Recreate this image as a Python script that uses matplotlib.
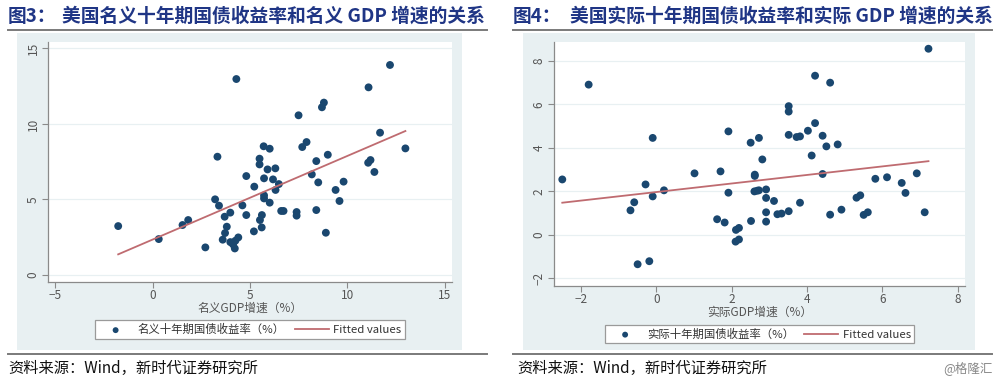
import numpy as np
import matplotlib
matplotlib.use("Agg")
import matplotlib.pyplot as plt
from matplotlib.patches import Rectangle
from matplotlib.lines import Line2D

plt.rcParams['font.family'] = ['Noto Sans CJK SC', 'DejaVu Sans']

# ---------------- data ----------------
nominal_gdp = [-1.76, 0.32, 1.54, 1.83, 2.71, 3.21, 3.33, 3.41, 3.70, 3.72, 3.81, 3.60, 3.99, 3.99,
               4.13, 4.22, 4.25, 4.40, 4.30, 4.61, 4.81, 4.81, 5.20, 5.22, 5.49, 5.49, 5.51, 5.60,
               5.61, 5.72, 5.70, 5.72, 5.72, 5.90, 6.01, 6.01, 6.18, 6.30, 6.31, 6.48, 6.60, 6.72,
               7.39, 7.39, 7.49, 7.68, 7.90, 8.17, 8.40, 8.40, 8.50, 8.69, 8.79, 8.89, 8.99, 9.39,
               9.59, 9.80, 11.06, 11.18, 11.08, 11.38, 11.67, 12.18, 12.97]
nominal_yield = [3.24, 2.38, 3.31, 3.64, 1.83, 5.01, 7.83, 4.59, 3.86, 2.78, 3.20, 2.34, 4.13, 2.18,
                 2.03, 1.76, 2.27, 2.49, 12.97, 4.61, 6.55, 3.97, 2.89, 5.85, 7.70, 7.32, 3.64, 3.15,
                 3.97, 6.40, 8.52, 5.27, 5.07, 6.99, 8.36, 4.79, 6.33, 7.06, 5.63, 6.02, 4.24, 4.24,
                 4.17, 3.93, 10.57, 8.47, 8.80, 6.66, 7.54, 4.30, 6.13, 11.10, 11.41, 2.80, 7.96, 5.63,
                 4.90, 6.18, 7.43, 7.61, 12.42, 6.82, 9.42, 13.90, 8.38]
# fitted line values at the smallest and largest GDP growth
nominal_fit = [1.37, 9.53]

real_gdp = [-2.50, -1.80, -0.69, -0.59, -0.50, -0.29, -0.19, -0.10, -0.10, 0.20, 1.01, 1.61, 1.70,
            1.81, 1.91, 1.91, 2.10, 2.11, 2.19, 2.19, 2.50, 2.51, 2.61, 2.61, 2.60, 2.67, 2.72, 2.72,
            2.81, 2.91, 2.91, 2.91, 2.91, 3.12, 3.21, 3.32, 3.51, 3.51, 3.51, 3.51, 3.72, 3.81, 3.81,
            4.02, 4.12, 4.21, 4.21, 4.41, 4.41, 4.51, 4.61, 4.61, 4.81, 4.91, 5.31, 5.41, 5.50, 5.61,
            5.81, 6.12, 6.51, 6.61, 6.91, 7.12, 7.22]
real_yield = [2.55, 6.91, 1.13, 1.50, -1.35, 2.32, -1.21, 4.46, 1.77, 2.05, 2.83, 0.72, 2.92, 0.57,
              4.76, 1.94, -0.31, 0.23, 0.32, -0.21, 4.24, 0.64, 2.77, 2.71, 2.00, 2.03, 4.46, 2.05,
              3.47, 2.09, 1.70, 1.04, 0.61, 1.56, 0.95, 0.98, 5.92, 5.67, 4.60, 1.09, 4.50, 4.53,
              1.48, 4.79, 3.65, 7.32, 5.14, 4.56, 2.80, 4.07, 7.00, 0.93, 4.16, 1.16, 1.71, 1.82,
              0.92, 1.04, 2.58, 2.65, 2.39, 1.93, 2.83, 1.04, 8.56]
real_fit = [1.48, 3.39]

left_xticks = [-5, 0, 5, 10, 15]
left_yticks = [0, 5, 10, 15]
right_xticks = [-2, 0, 2, 4, 6, 8]
right_yticks = [-2, 0, 2, 4, 6, 8]

title_left_num = "图3："
title_left = "美国名义十年期国债收益率和名义 GDP 增速的关系"
title_right_num = "图4："
title_right = "美国实际十年期国债收益率和实际 GDP 增速的关系"
xlabel_left = "名义GDP增速（%）"
xlabel_right = "实际GDP增速（%）"
legend_left = "名义十年期国债收益率（%）"
legend_right = "实际十年期国债收益率（%）"
source_text = "资料来源：Wind，新时代证券研究所"
watermark = "@格隆汇"

# ---------------- style ----------------
W, H = 1000, 384
BG = '#e8f0f2'
NAVY = '#1a476f'
FIT = '#bf6b70'
TITLE_C = '#1f3585'
AXC = '#8a8a8a'
TXT = '#555555'

fig = plt.figure(figsize=(W / 100, H / 100), dpi=100)

def fx(px):
    return px / W

def fy(py):
    return 1 - py / H

def panel(x0, x1, ax_box, xs, ys, fit, xlim, ylim, xticks, yticks, xlabel, leg_label,
          leg_box, tnum, ttext, line_x0, line_x1, title_x2):
    bg = Rectangle((fx(x0), fy(350)), fx(x1) - fx(x0), fy(33) - fy(350),
                   transform=fig.transFigure, facecolor=BG, edgecolor='none', zorder=-5)
    fig.patches.append(bg)
    for yy in (30, 354):
        fig.add_artist(Line2D([fx(line_x0), fx(line_x1)], [fy(yy), fy(yy)],
                              transform=fig.transFigure, color='#7a7a7a', lw=1.4))
    fig.text(fx(line_x0), fy(16), tnum, fontsize=13.5, fontweight='bold', color=TITLE_C,
             va='center', ha='left')
    fig.text(fx(title_x2), fy(16), ttext, fontsize=13.5, fontweight='bold', color=TITLE_C,
             va='center', ha='left')

    l, t, r, b = ax_box
    ax = fig.add_axes([fx(l), fy(b), fx(r) - fx(l), fy(t) - fy(b)])
    ax.set_zorder(2)
    ax.set_facecolor('white')
    ax.set_xlim(*xlim)
    ax.set_ylim(*ylim)
    ax.set_xticks(xticks)
    ax.set_yticks(yticks)
    for s in ('top', 'right'):
        ax.spines[s].set_visible(False)
    for s in ('left', 'bottom'):
        ax.spines[s].set_color(AXC)
        ax.spines[s].set_linewidth(0.9)
    ax.tick_params(axis='both', colors=AXC, length=4, width=0.8, labelsize=8.5,
                   labelcolor=TXT)
    ax.tick_params(axis='y', pad=2)
    ax.tick_params(axis='x', pad=1)
    for lab in ax.get_yticklabels():
        lab.set_rotation(90)
        lab.set_va('center')
    ax.grid(axis='y', color=BG, lw=0.9)
    ax.set_axisbelow(True)
    sc = ax.scatter(xs, ys, s=32, color=NAVY, edgecolors='none', zorder=3)
    ln, = ax.plot([min(xs), max(xs)], fit, color=FIT, lw=1.3, zorder=4)
    ax.set_xlabel(xlabel, fontsize=8.5, color=TXT, labelpad=0)

    lx0, ly0, lx1, ly1 = leg_box
    leg = fig.legend([sc, ln], [leg_label, 'Fitted values'], ncol=2,
                     loc='center', bbox_to_anchor=((fx(lx0) + fx(lx1)) / 2, (fy(ly0) + fy(ly1)) / 2),
                     bbox_transform=fig.transFigure, fontsize=8.2, frameon=True, fancybox=False,
                     edgecolor='#9a9a9a', facecolor='white', framealpha=1, handlelength=3.0,
                     columnspacing=0.9, handletextpad=0.4, borderpad=0.3, markerscale=0.75)
    leg.get_frame().set_linewidth(0.9)
    leg.set_zorder(3)
    for tx in leg.get_texts():
        tx.set_color('#333333')
    return ax

panel(17, 462, (48, 42, 452, 282), nominal_gdp, nominal_yield, nominal_fit,
      (-5.36, 15.36), (-0.46, 15.42),
      left_xticks, left_yticks, xlabel_left, legend_left, (97, 319, 403, 340),
      title_left_num, title_left, 8, 487, 62)
panel(523, 975, (554, 42, 965, 286), real_gdp, real_yield, real_fit,
      (-2.72, 8.19), (-2.35, 8.87),
      right_xticks, right_yticks, xlabel_right, legend_right, (604, 323, 915, 345),
      title_right_num, title_right, 513, 992, 570)

fig.text(fx(8), fy(368), source_text, fontsize=11, color='#111111', va='center', ha='left')
fig.text(fx(517), fy(368), source_text, fontsize=11, color='#111111', va='center', ha='left')
fig.text(fx(993), fy(368), watermark, fontsize=9, color='#888888', va='center', ha='right')

fig.savefig('out.png', dpi=100)
